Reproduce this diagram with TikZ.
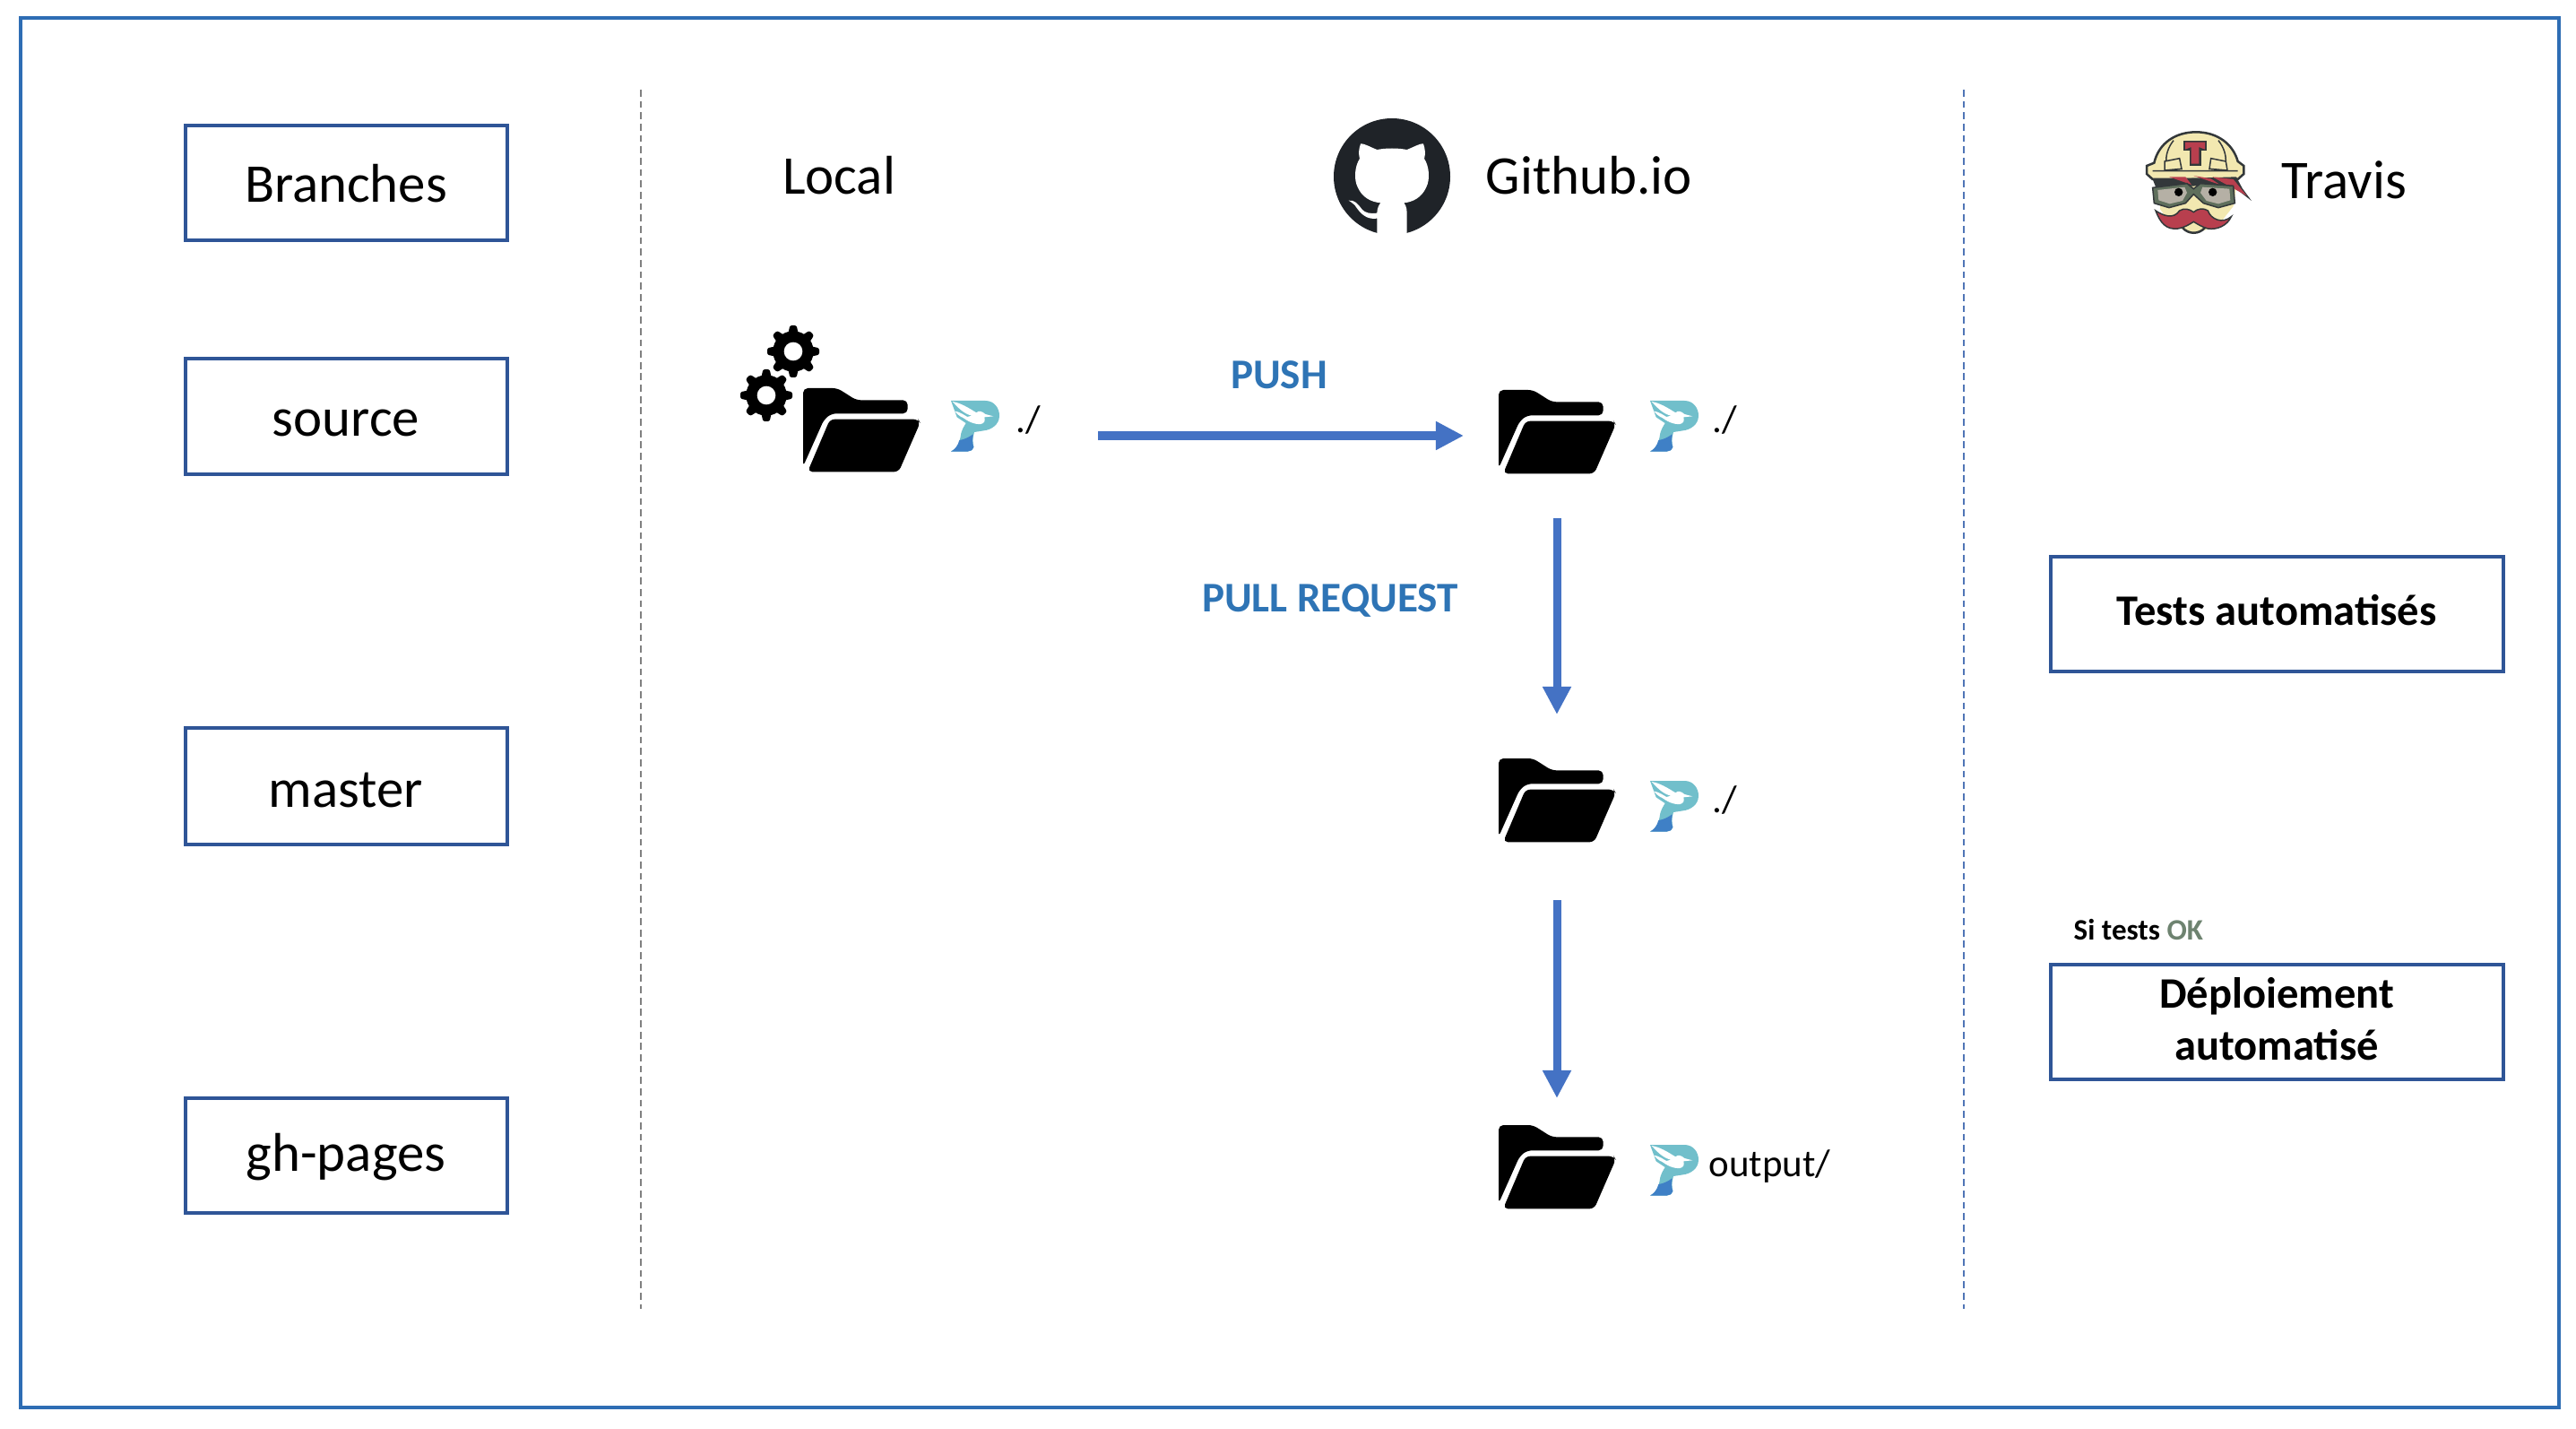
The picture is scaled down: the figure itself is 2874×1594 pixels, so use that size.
\documentclass[tikz,border=0pt]{standalone}
\usepackage{fontspec}
\setmainfont{Carlito}
\usetikzlibrary{arrows.meta}
\definecolor{frameblue}{HTML}{2E6DB4}
\definecolor{boxblue}{HTML}{2F5597}
\definecolor{flowblue}{HTML}{4472C4}
\definecolor{labelblue}{HTML}{2E74B5}
\definecolor{okgreen}{HTML}{6E8370}
\definecolor{pteal}{HTML}{71BFCB}
\definecolor{pblue}{HTML}{3F80C6}
\definecolor{ghdark}{HTML}{1F2328}
\definecolor{tcream}{HTML}{F2E8B0}
\definecolor{tred}{HTML}{B83F4E}
\definecolor{tdark}{HTML}{33383A}
\definecolor{tgreen}{HTML}{5F6F5C}
\definecolor{tgrey}{HTML}{B5B0A5}
\tikzset{
  px/.style={line width=#1*0.2845pt},
  boxnode/.style={draw=boxblue,px=3.5,minimum width=359*0.2845pt,inner sep=0pt},
  sep/.style={px=1.6,dash pattern=on 2.2pt off 1.4pt},
  flow/.style={draw=flowblue,px=9,-{Triangle[length=31*0.2845pt,width=30*0.2845pt]}},
  big/.style={font=\fontsize{17.3}{20}\selectfont,anchor=base,inner sep=0pt},
  small/.style={font=\fontsize{12.2}{14}\selectfont,anchor=base west,inner sep=0pt},
  flowlabel/.style={font=\fontsize{13.4}{16}\selectfont\bfseries,text=labelblue,anchor=base,inner sep=0pt},
  folder/.pic={
    \fill[black,rounded corners=1.5pt] (0,262) -- (0,0) -- (115,0) -- (178,40) -- (350,40) -- (350,85) -- (95,85) -- (70,105) -- cycle;
    \fill[black,rounded corners=1.5pt] (15,280) -- (320,280) -- (392,115) -- (385,104) -- (90,104) -- cycle;
  },
  pelican/.pic={
    \fill[pteal] (0,0) -- (115,0) .. controls (145,0) and (162,25) .. (162,50) .. controls (162,80) and (135,97) .. (110,100) -- (78,105) .. controls (72,125) and (72,140) .. (76,155) .. controls (72,165) and (65,170) .. (55,170) -- (0,170) .. controls (20,160) and (30,140) .. (32,120) .. controls (35,95) and (45,85) .. (50,75) -- (20,55) -- cycle;
    \fill[pblue] (28,132) .. controls (45,130) and (60,122) .. (74,112) .. controls (71,130) and (72,145) .. (76,155) .. controls (72,165) and (65,170) .. (55,170) -- (0,170) .. controls (15,162) and (24,148) .. (28,132) -- cycle;
    \fill[white] (5,3) .. controls (35,8) and (60,25) .. (85,40) .. controls (92,32) and (105,35) .. (115,45) -- (142,52) -- (112,55) .. controls (115,68) and (112,75) .. (100,78) .. controls (80,80) and (55,70) .. (35,52) .. controls (50,55) and (60,55) .. (70,50) .. controls (45,45) and (25,25) .. (5,3) -- cycle;
    \fill[white] (12,35) .. controls (25,35) and (50,50) .. (62,60) .. controls (40,62) and (25,50) .. (12,35) -- cycle;
  },
  gear/.pic={
    \fill[black] (0,0) circle (68);
    \foreach \a in {0,45,...,315}{
      \fill[black,rotate=\a,rounded corners=0.6pt] (-17,-60) -- (-11,-87) -- (11,-87) -- (17,-60) -- cycle;
    }
    \fill[white] (0,0) circle (31);
  }
}
\begin{document}
\begin{tikzpicture}[x=0.01cm,y=-0.01cm]
\useasboundingbox (0,0) rectangle (2874,1594);
\fill[white] (0,0) rectangle (2874,1594);
\draw[frameblue,px=3.5] (23,20) rectangle (2855,1570);

% separators
\coordinate (sepAtop) at (715,100);
\coordinate (sepAbot) at (715,1460);
\coordinate (sepBtop) at (2191,100);
\coordinate (sepBbot) at (2191,1460);
\draw[sep,draw=gray] (sepAtop) -- (sepAbot);
\draw[sep,draw=flowblue!80!gray] (sepBtop) -- (sepBbot);

% branch boxes
\foreach \nm/\ya/\yb in {bBranches/140/268,bSource/400/529,bMaster/812/942,bGhpages/1225/1353}{
  \node[boxnode,minimum height={(\yb-\ya)*0.2845pt},anchor=center] (\nm) at (386.5,{(\ya+\yb)/2}) {};
}
\node[big] (tBranches) at (386,226) {Branches};
\node[big] (tSource) at (386,487) {source};
\node[big] (tMaster) at (386,900) {master};
\node[big] (tGhpages) at (386,1306) {gh-pages};

% headers
\node[big] (hLocal) at (936,217) {Local};
\node[big,anchor=base west] (hGithub) at (1657,217) {Github.io};
\node[big,anchor=base west] (hTravis) at (2545,222) {Travis};

% github logo
\begin{scope}[shift={(1553,197)},scale=1/3]
  \fill[ghdark] (0,0) circle (195);
  \fill[white] (-105,-110) .. controls (-95,-112) and (-75,-100) .. (-50,-90) .. controls (-20,-96) and (20,-96) .. (50,-90) .. controls (75,-100) and (95,-112) .. (105,-110) .. controls (112,-90) and (112,-75) .. (108,-60) .. controls (125,-35) and (128,10) .. (115,35) .. controls (100,70) and (70,85) .. (40,88) .. controls (50,100) and (50,115) .. (50,130) -- (50,200) -- (-50,200) -- (-50,140) .. controls (-85,145) and (-105,125) .. (-125,95) .. controls (-130,88) and (-140,85) .. (-145,80) .. controls (-125,78) and (-115,90) .. (-100,110) .. controls (-90,122) and (-70,125) .. (-50,122) .. controls (-50,110) and (-45,95) .. (-38,88) .. controls (-70,85) and (-100,70) .. (-115,35) .. controls (-128,10) and (-125,-35) .. (-108,-60) .. controls (-112,-75) and (-112,-90) .. (-105,-110) -- cycle;
\end{scope}

% travis mascot
\begin{scope}[shift={(2360,120)},scale=1/3]
  \fill[tcream] (150,240) -- (410,240) -- (395,330) -- (340,400) -- (262,420) -- (190,395) -- (150,340) -- cycle;
  \draw[tdark,px=2.5,fill=tcream] (130,185) .. controls (145,120) and (200,82) .. (270,82) .. controls (345,82) and (395,125) .. (410,180) -- (430,195) -- (430,222) -- (410,240) -- (125,240) -- (105,222) -- (105,195) -- cycle;
  \draw[tdark,px=1.5] (165,210) -- (165,180) -- (215,170) -- (222,205) -- cycle (315,205) -- (320,170) -- (370,180) -- (375,210) -- cycle (195,110) .. controls (175,135) and (170,160) .. (170,178) (345,110) .. controls (365,135) and (370,160) .. (370,178) (125,212) -- (410,212);
  \fill[tdark] (228,110) rectangle (306,145);
  \fill[tdark] (248,140) rectangle (288,195);
  \fill[tred] (234,116) -- (300,116) -- (300,140) -- (280,132) -- (280,188) -- (254,188) -- (254,132) -- (234,140) -- cycle;
  \fill[tdark] (125,240) -- (405,232) -- (425,270) -- (456,312) -- (395,265) -- (395,260) -- (135,265) -- cycle;
  \fill[tred] (180,232) -- (235,232) -- (255,258) -- cycle (262,228) -- (320,238) -- (350,258) -- cycle (325,232) -- (395,240) -- (440,295) -- cycle;
  \fill[tgreen,draw=tdark,px=1.5] (125,268) -- (240,254) -- (262,272) -- (285,254) -- (395,262) -- (400,320) -- (345,335) -- (295,320) -- (262,290) -- (235,320) -- (180,335) -- (130,320) -- cycle;
  \fill[tgrey] (142,276) -- (232,266) -- (240,285) -- (225,312) -- (182,322) -- (145,310) -- cycle (292,266) -- (382,272) -- (385,310) -- (345,322) -- (305,312) -- (285,285) -- cycle;
  \fill[black] (212,283) circle (14) (326,283) circle (14);
  \fill[tred,draw=tdark,px=1.5] (135,345) .. controls (160,362) and (195,375) .. (215,345) .. controls (230,335) and (250,340) .. (262,350) .. controls (275,338) and (295,335) .. (310,345) .. controls (320,375) and (360,390) .. (388,365) .. controls (375,395) and (340,410) .. (310,405) .. controls (295,402) and (275,390) .. (262,382) .. controls (250,390) and (230,402) .. (210,405) .. controls (170,410) and (150,385) .. (135,345) -- cycle;
  \draw[tdark,px=2.5] (225,402) .. controls (245,425) and (280,425) .. (300,402);
\end{scope}

% flow folders and logos
\pic[scale=1/3] at (896,433) {folder};
\pic[scale=1/3] at (885,392) {gear};
\pic[scale=1/3] at (855,441) {gear};
\pic[scale=1/3] at (1061,447) {pelican};
\node[small] (dotA) at (1133,482) {./};

\pic[scale=1/3] at (1672,435) {folder};
\pic[scale=1/3] at (1841,447) {pelican};
\node[small] (dotB) at (1910,482) {./};

\pic[scale=1/3] at (1672,846) {folder};
\pic[scale=1/3] at (1841,871) {pelican};
\node[small] (dotC) at (1910,906) {./};

\pic[scale=1/3] at (1672,1255) {folder};
\pic[scale=1/3] at (1841,1277) {pelican};
\node[small] (dotD) at (1906,1312) {output/};

% arrows
\coordinate (pushFrom) at (1225,486);
\coordinate (pushTo) at (1633,486);
\coordinate (prFrom) at (1737,578);
\coordinate (prTo) at (1737,797);
\coordinate (depFrom) at (1737,1004);
\coordinate (depTo) at (1737,1225);
\draw[flow] (pushFrom) -- (pushTo);
\draw[flow] (prFrom) -- (prTo);
\draw[flow] (depFrom) -- (depTo);
\node[flowlabel] (lPush) at (1427,434) {PUSH};
\node[flowlabel] (lPull) at (1484,682) {PULL REQUEST};

% travis boxes
\node[boxnode,minimum width=505*0.2845pt,minimum height=128*0.2845pt] (bTests) at (2540.5,685) {};
\node[font=\fontsize{13.8}{16}\selectfont\bfseries,anchor=base,inner sep=0pt] (tTests) at (2540,697) {Tests automatisés};
\node[boxnode,minimum width=505*0.2845pt,minimum height=128*0.2845pt] (bDeploy) at (2540.5,1140) {};
\node[font=\fontsize{13.8}{16}\selectfont\bfseries,anchor=base,inner sep=0pt] (tDeployA) at (2540,1124) {Déploiement};
\node[font=\fontsize{13.8}{16}\selectfont\bfseries,anchor=base,inner sep=0pt] (tDeployB) at (2540,1182) {automatisé};
\node[font=\fontsize{9.4}{11}\selectfont\bfseries,anchor=base west,inner sep=0pt] (tOk) at (2313,1048) {Si tests \textcolor{okgreen}{OK}};
\end{tikzpicture}
\end{document}
